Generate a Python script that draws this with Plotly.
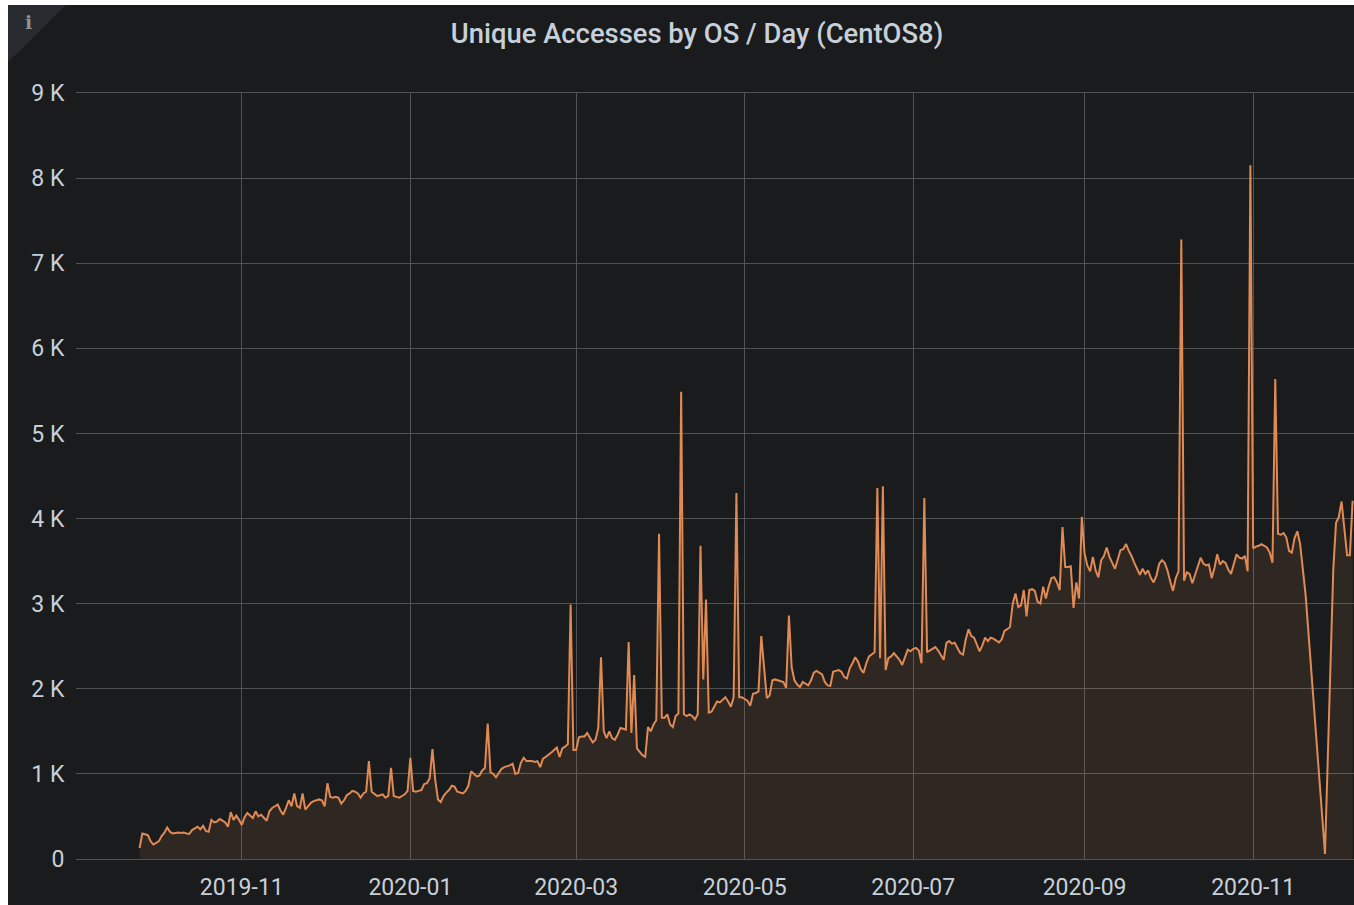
import pandas as pd
import plotly.graph_objects as go

title = "Unique Accesses by OS / Day (CentOS8)"
y_ticks = [0, 1000, 2000, 3000, 4000, 5000, 6000, 7000, 8000, 9000]
y_labels = ["0", "1 K", "2 K", "3 K", "4 K", "5 K", "6 K", "7 K", "8 K", "9 K"]

sep19 = [130, 300, 290, 280, 210, 170]
oct19 = [190, 210, 270, 310, 370, 320, 300, 305, 310, 305, 310, 300, 295, 340, 360, 380, 350, 390, 330, 320,
         460, 430, 440, 470, 450, 430, 380, 550, 460, 510, 460]
nov19 = [400, 490, 540, 510, 480, 560, 500, 520, 490, 450, 560, 600, 620, 640, 570, 520, 600, 690, 620, 770,
         620, 600, 770, 580, 620, 660, 680, 690, 700, 690]
dec19 = [620, 890, 730, 720, 730, 720, 650, 690, 750, 770, 800, 790, 770, 720, 770, 790, 1150, 790, 770, 740,
         750, 760, 720, 740, 1070, 740, 730, 720, 740, 760, 800]
jan20 = [1190, 800, 790, 800, 810, 880, 890, 950, 1290, 930, 700, 670, 740, 780, 810, 860, 850, 790, 780, 770,
         800, 860, 1030, 1000, 970, 980, 1040, 1070, 1590, 1020, 1000]
feb20 = [960, 1010, 1060, 1080, 1090, 1100, 1120, 1000, 1010, 1130, 1190, 1150, 1150, 1150, 1140, 1150, 1080,
         1180, 1200, 1220, 1250, 1280, 1310, 1200, 1300, 1320, 1350, 2990, 1280]
mar20 = [1280, 1430, 1440, 1440, 1480, 1420, 1370, 1400, 1540, 2370, 1500, 1420, 1500, 1420, 1400, 1460, 1540,
         1530, 1520, 2550, 1480, 2160, 1300, 1260, 1220, 1200, 1550, 1500, 1580, 1630, 3820]
apr20 = [1660, 1660, 1700, 1580, 1550, 1680, 1710, 5490, 1700, 1680, 1700, 1680, 1640, 1700, 3680, 2110, 3050,
         1720, 1730, 1800, 1850, 1840, 1870, 1900, 1850, 1790, 1900, 4300, 1900, 1900]
may20 = [1880, 1860, 1800, 1940, 1950, 1970, 2620, 2200, 1890, 1920, 2100, 2110, 2100, 2090, 2080, 2010, 2860,
         2250, 2100, 2050, 2020, 2080, 2060, 2040, 2100, 2190, 2210, 2190, 2170, 2080, 2040]
jun20 = [2035, 2200, 2210, 2220, 2200, 2140, 2120, 2240, 2300, 2370, 2320, 2230, 2185, 2300, 2380, 2410, 2430,
         4360, 2360, 4380, 2220, 2360, 2380, 2420, 2380, 2340, 2280, 2360, 2460, 2440]
jul20 = [2470, 2480, 2450, 2300, 4240, 2430, 2450, 2470, 2490, 2450, 2400, 2340, 2540, 2560, 2530, 2540, 2480,
         2420, 2400, 2580, 2700, 2620, 2600, 2530, 2440, 2510, 2600, 2560, 2600, 2590, 2570]
aug20 = [2545, 2580, 2680, 2700, 2725, 3000, 3120, 2960, 2980, 3160, 2850, 3160, 3170, 3150, 3020, 3000, 3200,
         3060, 3200, 3300, 3310, 3250, 3160, 3900, 3430, 3430, 3440, 2950, 3250, 3060, 4020]
sep20 = [3590, 3450, 3380, 3550, 3390, 3310, 3510, 3560, 3660, 3550, 3480, 3410, 3520, 3630, 3640, 3700, 3620,
         3560, 3480, 3400, 3340, 3410, 3350, 3390, 3300, 3250, 3330, 3470, 3510, 3480]
oct20 = [3390, 3260, 3150, 3300, 3380, 7280, 3270, 3370, 3350, 3240, 3340, 3460, 3540, 3470, 3450, 3460, 3300,
         3420, 3580, 3460, 3500, 3480, 3400, 3350, 3470, 3580, 3540, 3530, 3560, 3380, 8150]
nov20 = [3650, 3670, 3680, 3700, 3680, 3660, 3600, 3480, 5640, 3820, 3810, 3830, 3780, 3620, 3600, 3770, 3850,
         3700, 3400, 3100]
tail_dates = ["2020-11-27", "2020-11-30", "2020-12-01", "2020-12-02", "2020-12-03", "2020-12-04", "2020-12-05",
              "2020-12-06", "2020-12-07"]
tail_values = [60, 3400, 3950, 4020, 4200, 3900, 3570, 3570, 4210]

daily = sep19 + oct19 + nov19 + dec19 + jan20 + feb20 + mar20 + apr20 + may20 + jun20 + jul20 + aug20 + sep20 + oct20 + nov20
dates = list(pd.date_range("2019-09-25", periods=len(daily))) + list(pd.to_datetime(tail_dates))
values = daily + tail_values

BG = "#1a1b1d"
GRID = "#525355"
TEXT = "#c7d0d9"
LINE = "#e08a54"
FILL = "rgba(229,138,82,0.105)"

W, H = 1346, 900
L, T, R, B = 68, 88, 0, 46
pw, ph = W - L - R, H - T - B

fig = go.Figure(go.Scatter(
    x=dates, y=values, mode="lines",
    line=dict(color=LINE, width=2),
    fill="tozeroy", fillcolor=FILL,
    hoverinfo="skip", showlegend=False,
))


def px(x):
    return (x - L) / pw


def py(y):
    return 1 - (y - T) / ph


fig.update_layout(
    width=W, height=H,
    margin=dict(l=L, r=R, t=T, b=B, pad=0),
    paper_bgcolor=BG, plot_bgcolor=BG,
    font=dict(family="Roboto, sans-serif", color=TEXT, size=23),
    title=dict(text=title, font=dict(size=27.4, color=TEXT, family="Roboto, sans-serif", weight=500),
               x=689 / W, xanchor="center", y=1 - 28 / H, yanchor="middle"),
    xaxis=dict(type="date", range=["2019-09-02", "2020-12-07 12:00"],
               tick0="2019-11-01", dtick="M2", tickformat="%Y-%m",
               showgrid=True, gridcolor=GRID, gridwidth=1,
               showline=True, linecolor=GRID, linewidth=1, mirror=True, zeroline=False,
               ticks="outside", ticklen=7, tickcolor=BG, tickfont=dict(size=23, color=TEXT)),
    yaxis=dict(range=[0, 9000], tickvals=y_ticks, ticktext=y_labels,
               showgrid=True, gridcolor=GRID, gridwidth=1,
               zeroline=False, showline=False,
               ticks="outside", ticklen=6, tickcolor=BG, tickfont=dict(size=23, color=TEXT)),
    shapes=[
        dict(type="path", xref="paper", yref="paper", layer="below",
             path=f"M {px(0)},{py(0)} L {px(58)},{py(0)} L {px(0)},{py(57)} Z",
             fillcolor="#272a2f", line=dict(width=0)),
    ],
    annotations=[
        dict(text="<b>i</b>", xref="paper", yref="paper", x=px(21), y=py(17), xanchor="center", yanchor="middle",
             showarrow=False, font=dict(size=19, color="#8e9297", family="DejaVu Serif")),
    ],
)

fig.write_html("out.html", post_script="document.body.style.margin='5px 0 0 8px';")
